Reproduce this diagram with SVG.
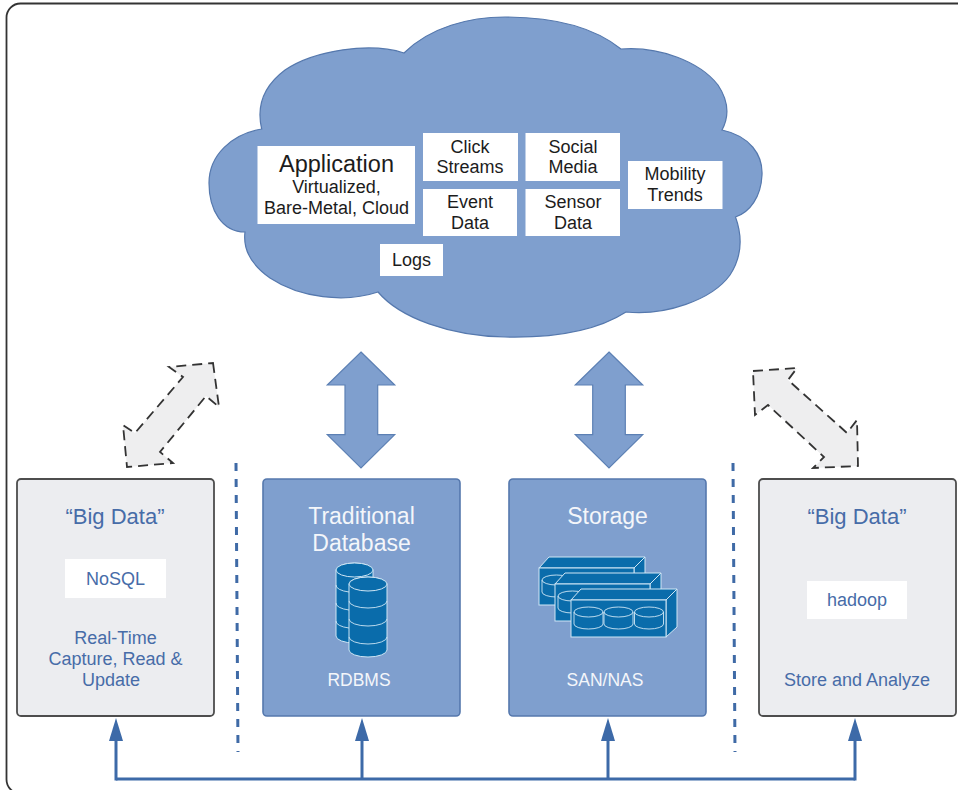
<svg xmlns="http://www.w3.org/2000/svg" width="958" height="790" viewBox="0 0 958 790">
<style>
text{font-family:"Liberation Sans",Arial,sans-serif;text-anchor:middle}
.dk{fill:#1c1c1c;font-size:18px}
.lead{font-size:23.5px}
.bl{fill:#476ca8;font-size:18px}
.blh{fill:#476ca8;font-size:22px}
.wh{fill:#f4f6fa;font-size:17.500px}
.whh{fill:#f4f6fa;font-size:23px}
.wb{fill:#fff}
.gray{fill:#ecedf0;stroke:#4d4d4d;stroke-width:1.8}
.blue{fill:#7f9fce;stroke:#5578ad;stroke-width:1.6}
.dbl{fill:#7f9fce;stroke:#5c80b4;stroke-width:1.2}
.dsh{fill:#eeeeef;stroke:none}
.dshl{fill:none;stroke:#333;stroke-width:1.8;stroke-dasharray:10 6}
.sep{fill:none;stroke:#3f6aa6;stroke-width:3;stroke-dasharray:8 8}
.bus{fill:none;stroke:#3d6aa8;stroke-width:3}
.ic{fill:#0a6cab;stroke:#cfe6f5;stroke-width:1}
.icl{fill:none;stroke:#cfe6f5;stroke-width:.9}
</style>
<defs>
<marker id="head" markerUnits="userSpaceOnUse" markerWidth="23" markerHeight="14" refX="0" refY="7" orient="auto" viewBox="0 0 23 14"><path d="M0,0L23,7L0,14Z" fill="#3d6aa8"/></marker>
<g id="array">
<path class="ic" d="M571,600L581,589H677L666,600Z"/>
<path class="ic" d="M666,600L677,589V627L666,637Z"/>
<rect class="ic" x="571" y="600" width="95" height="37"/>
<path class="icl" d="M574,612a14.500,5 0 0 1 29,0v12a14.500,5 0 0 1 -29,0zM574,612a14.500,5 0 0 0 29,0M604,612a14.500,5 0 0 1 29,0v12a14.500,5 0 0 1 -29,0zM604,612a14.500,5 0 0 0 29,0M634.500,612a14.500,5 0 0 1 29,0v12a14.500,5 0 0 1 -29,0zM634.500,612a14.500,5 0 0 0 29,0"/>
</g>
</defs>
<rect width="958" height="790" fill="#fff"/>
<rect id="frame" x="6.500" y="3.500" width="1000" height="790" rx="14" fill="#fff" stroke="#333" stroke-width="1.800"/>

<g id="cloud">
<path d="M404,53C430,27 470,17 505,17C555,17 595,28 621,49C660,46 700,62 718,85C728,100 730,115 722,130C750,136 763,155 762,175C761,197 750,212 735.500,217C742,235 743,255 730,275C712,300 665,316 626,312C595,332 550,338 505,337C450,336 400,318 378,292C345,303 300,298 270,278C250,264 243,248 245,232C222,232 209,210 209,183C209,155 232,134 261.700,129C256,105 265,85 285,70C315,50 370,42 404,53Z" fill="#7f9fce" stroke="#5578ad" stroke-width="1.200"/>
</g>
<g id="application"><rect class="wb" x="257.500" y="146" width="157.500" height="78"/>
<text class="dk lead" x="336.500" y="172">Application</text><text class="dk" x="336.500" y="192.500">Virtualized,</text><text class="dk" x="336.500" y="213.500">Bare-Metal, Cloud</text></g>
<g id="click-streams"><rect class="wb" x="423" y="133" width="95" height="48"/><text class="dk" x="470" y="152.500">Click</text><text class="dk" x="470" y="173">Streams</text></g>
<g id="social-media"><rect class="wb" x="525.500" y="133" width="94.500" height="48"/><text class="dk" x="573" y="152.500">Social</text><text class="dk" x="573" y="173">Media</text></g>
<g id="event-data"><rect class="wb" x="423" y="189" width="94" height="47"/><text class="dk" x="470" y="208">Event</text><text class="dk" x="470" y="229">Data</text></g>
<g id="sensor-data"><rect class="wb" x="525.500" y="189" width="94.500" height="47"/><text class="dk" x="573" y="208">Sensor</text><text class="dk" x="573" y="229">Data</text></g>
<g id="mobility-trends"><rect class="wb" x="628" y="161" width="94.500" height="48"/><text class="dk" x="675" y="180">Mobility</text><text class="dk" x="675" y="201">Trends</text></g>
<g id="logs"><rect class="wb" x="380" y="244" width="63" height="32"/><text class="dk" x="411.500" y="265.500">Logs</text></g>

<g id="big-data-nosql"><rect class="gray" x="17" y="479" width="197" height="237" rx="4"/>
<text class="blh" x="115" y="524">“Big Data”</text>
<rect class="wb" x="65" y="559" width="101" height="39"/><text class="bl" x="115.500" y="585">NoSQL</text>
<text class="bl" x="115.500" y="643.500">Real-Time</text><text class="bl" x="115.500" y="665">Capture, Read &amp;</text><text class="bl" x="111" y="686">Update</text></g>

<g id="traditional-database"><rect class="blue" x="263" y="479" width="197" height="237" rx="4"/>
<text class="whh" x="361.500" y="524">Traditional</text><text class="whh" x="361.500" y="551">Database</text>
<path class="ic" d="M336,570v66a18.500,7 0 0 0 37,0v-66a18.500,7 0 0 0 -37,0z"/><ellipse class="ic" cx="354.500" cy="570" rx="18.500" ry="7"/>
<path class="icl" d="M336,585a18.500,7 0 0 0 13,7M336,603a18.500,7 0 0 0 13,7M336,621a18.500,7 0 0 0 13,7"/>
<path class="ic" d="M349,584v66a19,7 0 0 0 38,0v-66a19,7 0 0 0 -38,0z"/><ellipse class="ic" cx="368" cy="584" rx="19" ry="7"/>
<path class="icl" d="M349,601a19,7 0 0 0 38,0M349,619a19,7 0 0 0 38,0M349,637a19,7 0 0 0 38,0"/>
<text class="wh" x="359" y="686">RDBMS</text></g>

<g id="storage"><rect class="blue" x="509" y="479" width="197" height="237" rx="4"/>
<text class="whh" x="607.500" y="524">Storage</text>
<use href="#array" x="-32" y="-32"/><use href="#array" x="-16" y="-16"/><use href="#array"/>
<text class="wh" x="605" y="686">SAN/NAS</text></g>

<g id="big-data-hadoop"><rect class="gray" x="759" y="479" width="197" height="237" rx="4"/>
<text class="blh" x="857" y="524">“Big Data”</text>
<rect class="wb" x="807" y="581" width="100" height="38"/><text class="bl" x="857" y="606">hadoop</text>
<text class="bl" x="857" y="686">Store and Analyze</text></g>

<g id="connectors">
<path class="dbl" d="M361,352L394.700,385H377.700V434.700H394.700L361,468L327.300,434.700H345V385H327.300Z"/>
<path class="dbl" d="M609,352L642.700,385H625.300V434.700H642.700L609,468L575.300,434.700H592.700V385H575.300Z"/>
<path class="dsh" d="M213,363L219,407L206,396L160,452L173,463L127,467L123,425L135,433L183,377L169,367Z"/>
<path class="dshl" d="M213,363L219,407L206,396L160,452L173,463L127,467L123,425L135,433L183,377L169,367Z"/>
<path class="dsh" d="M753,371L797,368L788,380L847,433L857,420L858,466L813,468L824,457L768,405L755,415Z"/>
<path class="dshl" d="M753,371L797,368L788,380L847,433L857,420L858,466L813,468L824,457L768,405L755,415Z"/>
<path class="sep" d="M236,463L238,752"/>
<path class="sep" d="M733,463L735,752"/>
<path class="bus" d="M116,779H855"/>
<path class="bus" d="M116,780.500V741" marker-end="url(#head)"/>
<path class="bus" d="M362,779V741" marker-end="url(#head)"/>
<path class="bus" d="M608,779V741" marker-end="url(#head)"/>
<path class="bus" d="M855,780.500V741" marker-end="url(#head)"/>
</g>
</svg>
